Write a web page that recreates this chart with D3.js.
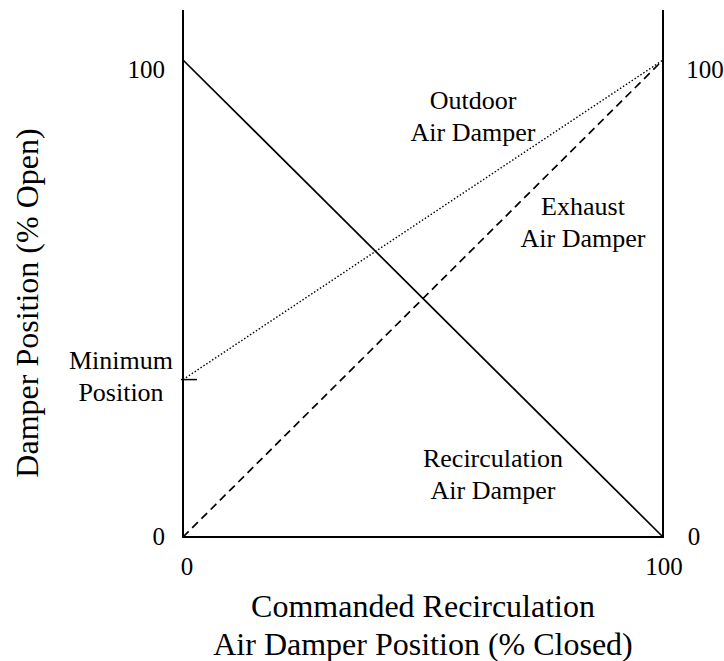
<!DOCTYPE html>
<html><head><meta charset="utf-8">
<script src="https://cdn.jsdelivr.net/npm/d3@7"></script>
<style>body{margin:0;background:#fff}svg{display:block}text{font-family:"Liberation Serif","Times New Roman",serif;fill:#000}</style>
</head><body><svg id="c" width="724" height="661"></svg>
<script>
const xDomain = [0, 100];
const yDomain = [0, 100];
const minimumPosition = 33;
const outdoorLine = [[0, minimumPosition], [100, 100]];
const exhaustLine = [[0, 0], [100, 100]];
const recircLine = [[0, 100], [100, 0]];
const leftTicks = [0, 100];
const rightTicks = [0, 100];
const bottomTicks = [0, 100];

const svg = d3.select("#c");
const x = d3.scaleLinear().domain(xDomain).range([183, 663]);
const y = d3.scaleLinear().domain(yDomain).range([537, 60]);
const line = d3.line().x(d => x(d[0])).y(d => y(d[1]));

// axes frame
svg.append("line").attr("x1", x(0)).attr("x2", x(0)).attr("y1", 10).attr("y2", y(0)).attr("stroke", "#000").attr("stroke-width", 2);
svg.append("line").attr("x1", x(100)).attr("x2", x(100)).attr("y1", 10).attr("y2", y(0)).attr("stroke", "#000").attr("stroke-width", 2);
svg.append("line").attr("x1", x(0)-1).attr("x2", x(100)+1).attr("y1", y(0)).attr("y2", y(0)).attr("stroke", "#000").attr("stroke-width", 2);
// minimum tick
svg.append("line").attr("x1", x(0)-2).attr("x2", x(0)+14).attr("y1", y(minimumPosition)).attr("y2", y(minimumPosition)).attr("stroke", "#000").attr("stroke-width", 1.5);

svg.append("path").attr("d", line(recircLine)).attr("fill", "none").attr("stroke", "#000").attr("stroke-width", 1.7);
svg.append("path").attr("d", line(exhaustLine)).attr("fill", "none").attr("stroke", "#000").attr("stroke-width", 1.7).attr("stroke-dasharray", "8,5");
svg.append("path").attr("d", line(outdoorLine)).attr("fill", "none").attr("stroke", "#000").attr("stroke-width", 1.4).attr("stroke-dasharray", "1.5,2");

const tfs = 25;
leftTicks.forEach(t => svg.append("text").attr("x", x(0) - 18).attr("y", y(t) + (t === 0 ? 8 : 18)).attr("text-anchor", "end").attr("font-size", tfs).text(t));
rightTicks.forEach(t => svg.append("text").attr("x", t === 0 ? x(100) + 31 : x(100) + 42).attr("y", y(t) + (t === 0 ? 8 : 18)).attr("text-anchor", "middle").attr("font-size", tfs).text(t));
bottomTicks.forEach(t => svg.append("text").attr("x", x(t) + (t === 0 ? 4 : 1)).attr("y", y(0) + 38).attr("text-anchor", "middle").attr("font-size", tfs).text(t));

const lfs = 26;
function label(cx, cy, lines) {
  lines.forEach((s, i) => svg.append("text").attr("x", cx).attr("y", cy + i * 32).attr("text-anchor", "middle").attr("font-size", lfs).text(s));
}
label(473, 109, ["Outdoor", "Air Damper"]);
label(583, 215, ["Exhaust", "Air Damper"]);
label(493, 467, ["Recirculation", "Air Damper"]);
label(121, 369, ["Minimum", "Position"]);

svg.append("text").attr("transform", `translate(38,303) rotate(-90)`).attr("text-anchor", "middle").attr("font-size", 32).text("Damper Position (% Open)");
svg.append("text").attr("x", 423).attr("y", 617).attr("text-anchor", "middle").attr("font-size", 32).text("Commanded Recirculation");
svg.append("text").attr("x", 423).attr("y", 655).attr("text-anchor", "middle").attr("font-size", 32).text("Air Damper Position (% Closed)");
</script></body></html>
